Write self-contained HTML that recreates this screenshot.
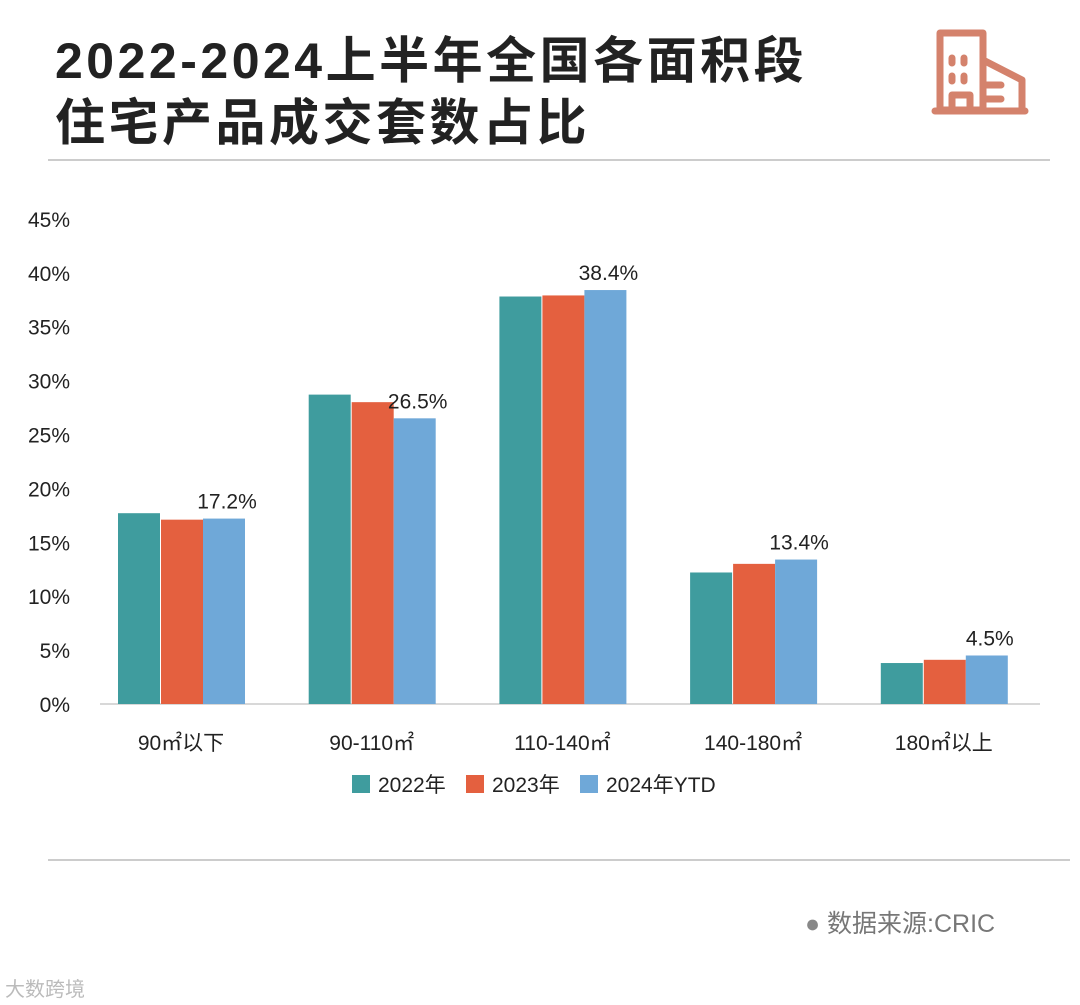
<!DOCTYPE html>
<html><head><meta charset="utf-8"><style>
body{margin:0;width:1080px;height:1005px;background:#fff;font-family:"Liberation Sans","Noto Sans CJK SC",sans-serif;overflow:hidden;position:relative}
.t{position:absolute;left:55px;font-size:50px;letter-spacing:3.5px;font-weight:bold;color:#222;line-height:60px}
</style></head><body>
<div class="t" style="top:31px">2022-2024上半年全国各面积段</div>
<div class="t" style="top:93px">住宅产品成交套数占比</div>
<svg style="position:absolute;left:930px;top:25px" width="100" height="95" viewBox="0 0 100 95">
<g fill="none" stroke="#d4826c" stroke-width="7" stroke-linecap="round" stroke-linejoin="round">
<rect x="10" y="8" width="43" height="77"/><path d="M53 35 L92 55 L92 85"/><path d="M5 86 L95 86"/><path d="M22 85 V70 H40 V85"/>
<path d="M22 33v5M34 33v5M22 51v5M34 51v5M56 60h15M56 74h15"/></g></svg>
<svg id="c" width="1080" height="1005" style="position:absolute;left:0;top:0">
<line x1="48" y1="160" x2="1050" y2="160" stroke="#bbb" stroke-width="1.5"/>
<line x1="48" y1="860" x2="1070" y2="860" stroke="#bbb" stroke-width="1.5"/>
</svg>
<div style="position:absolute;left:805px;top:904px;font-size:25px;color:#777"><span style="color:#888">●</span> 数据来源:CRIC</div>
<div style="position:absolute;left:5px;top:973px;font-size:20px;color:#bbb">大数跨境</div>
<script>
const categories=["90㎡以下","90-110㎡","110-140㎡","140-180㎡","180㎡以上"];
const series=["2022年","2023年","2024年YTD"];
const v2022=[17.7,28.7,37.8,12.2,3.8];
const v2023=[17.1,28.0,37.9,13.0,4.1];
const v2024=[17.2,26.5,38.4,13.4,4.5];
const ticks=[0,5,10,15,20,25,30,35,40,45];
const colors=["#3f9c9e","#e4603f","#6fa8d8"];
const svg=document.getElementById('c');const NS="http://www.w3.org/2000/svg";
const y0=704,ppu=10.78,gx0=181,gstep=190.7,bw=42;
const y=v=>y0-v*ppu;
function el(t,a,txt){const e=document.createElementNS(NS,t);for(const k in a)e.setAttribute(k,a[k]);if(txt!==undefined)e.textContent=txt;svg.appendChild(e);return e;}
ticks.forEach(t=>{const e=el('text',{x:70,y:y(t)+8,'text-anchor':'end','font-size':21,fill:'#222'},t+'%');

});
const ax=el('line',{x1:100,y1:y0,x2:1040,y2:y0,stroke:'#ccc','stroke-width':1.5});


const all=[v2022,v2023,v2024];
categories.forEach((c,i)=>{const cx=gx0+i*gstep;
all.forEach((arr,s)=>{const x=cx-bw*1.5+s*bw+(s>0?1:0);const r=el('rect',{x:x,y:y(arr[i]),width:bw,height:arr[i]*ppu,fill:colors[s]});

});
const lb=el('text',{x:cx+bw+4,y:y(v2024[i])-10,'text-anchor':'middle','font-size':21,fill:'#222'},v2024[i].toFixed(1)+'%');


const xl=el('text',{x:cx,y:750,'text-anchor':'middle','font-size':21,fill:'#222'},c);

});
const lx=[352,466,580];
series.forEach((s,i)=>{const r=el('rect',{x:lx[i],y:775,width:18,height:18,fill:colors[i]});


const t=el('text',{x:lx[i]+26,y:792,'font-size':21,fill:'#222'},s);

});
</script>
</body></html>
